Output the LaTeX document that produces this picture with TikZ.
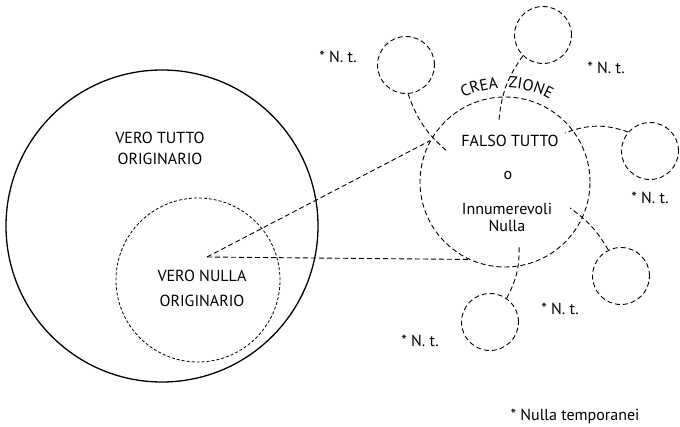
\documentclass[tikz,border=0pt]{standalone}
\usepackage{fontspec}
\setmainfont{PT Sans}
\usetikzlibrary{decorations.text,positioning}

\begin{document}
\begin{tikzpicture}[x=1pt,y=1pt,
    every node/.style={font=\fontsize{16}{19}\selectfont},
    circ/.style={draw,circle,inner sep=0pt},
    link/.style={line width=0.9pt,dash pattern=on 5pt off 3pt},
    nt/.style={circ,link,minimum size=57pt},
    curved/.style={decorate,decoration={text along path,#1}}]
  \useasboundingbox (0,0) rectangle (680,426);
  % cerchi principali
  \node[circ,line width=1.3pt,minimum size=312pt] (tutto) at (162,200) {};
  \node[circ,line width=0.8pt,dash pattern=on 3pt off 2pt,minimum size=164pt] (nulla) at (198,146) {};
  \node[circ,link,minimum size=170pt] (crea) at (505,244) {};
  % nulla temporanei
  \node[nt] (c1) at (406,361) {};
  \node[nt] (c2) at (543,391) {};
  \node[nt] (c3) at (650,275) {};
  \node[nt] (c4) at (621,150) {};
  \node[nt] (c5) at (490,104) {};
  % testi
  \node[align=center,font=\fontsize{16}{21}\selectfont] (vt) at (160,278) {VERO TUTTO\\ORIGINARIO};
  \node[align=center,font=\fontsize{16}{25}\selectfont] (vn) at (202,138) {VERO NULLA\\ORIGINARIO};
  \node (ft) at (510,285) {FALSO TUTTO};
  \node (o) at (508,250) {o};
  \node[align=center,font=\fontsize{16}{17}\selectfont] (inn) at (507,209) {Innumerevoli\\Nulla};
  \node (n1) at (338,369) {* N. t.};
  \node (n2) at (606,358) {* N. t.};
  \node (n3) at (650,228) {* N. t.};
  \node (n4) at (560,117) {* N. t.};
  \node (n5) at (420,85) {* N. t.};
  \node[anchor=base] (nota) at (575,6) {* Nulla temporanei};
  \path[curved={text={|\fontsize{16}{19}\selectfont|CREA},text align=right}]
    (crea.center) ++(122:94) arc[start angle=122,end angle=94,radius=94];
  \path[curved={text={|\fontsize{16}{19}\selectfont|ZIONE}}]
    (crea.center) ++(88:94) arc[start angle=88,end angle=50,radius=94];
  % collegamenti
  \coordinate (v) at (207,169);
  \coordinate (e1) at (448,274);
  \coordinate (e2) at (499,306);
  \coordinate (e3) at (565,293);
  \coordinate (e4) at (570,218);
  \coordinate (e5) at (519,181);
  \draw[link] (v) -- (crea.151);
  \draw[link] (v) -- (crea.245);
  \draw[link] (c1.-86) to[bend right=15] (e1);
  \draw[link] (c2.226) to[bend right=15] (e2);
  \draw[link] (c3.139) to[bend right=20] (e3);
  \draw[link] (c4.116) to[bend right=12] (e4);
  \draw[link] (c5.55) to[bend right=15] (e5);
\end{tikzpicture}
\end{document}
